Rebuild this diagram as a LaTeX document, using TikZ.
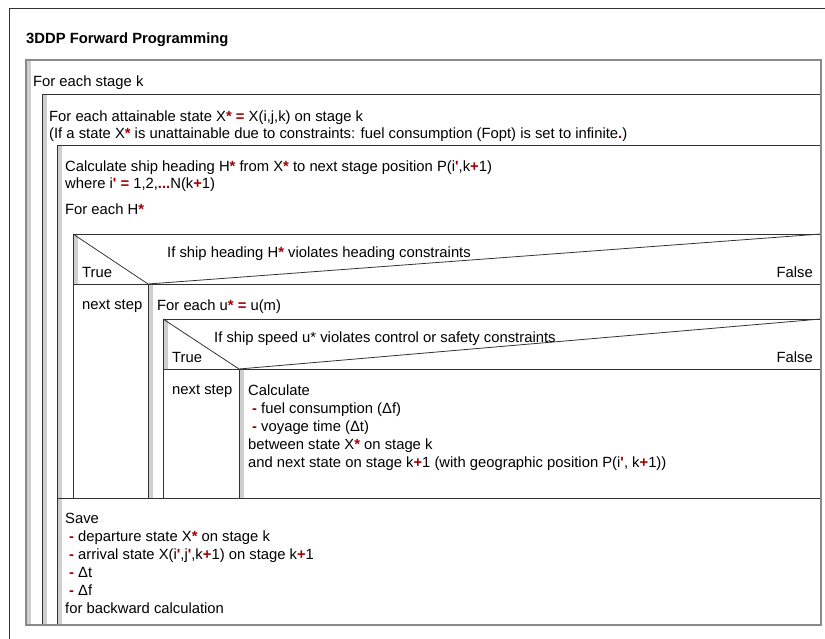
\documentclass[tikz,border=0pt]{standalone}
\usepackage{fontspec}
\setmainfont{Liberation Sans}
\usetikzlibrary{positioning}
\definecolor{nsline}{HTML}{333333}
\definecolor{nsframe}{HTML}{8A8A8A}
\definecolor{nsbar}{HTML}{CFCFCF}
\definecolor{nsred}{HTML}{A00000}
\newcommand{\rd}[1]{\textcolor{nsred}{\textbf{#1}}}
\newcommand{\qt}{\rd{\textquotesingle}}
\newcommand{\itm}{\hspace*{4pt}\rd{-} }
\tikzset{
  nstext/.style={anchor=north west,inner sep=0pt,align=left,font=\fontsize{14.8}{18}\selectfont},
  nshead/.style={nstext,font=\fontsize{14.8}{16.5}\selectfont},
  nsedge/.style={draw=nsline,line width=0.8pt},
  loopbar/.style={fill=nsbar,draw=none},
}
\begin{document}
\begin{tikzpicture}[x=1pt,y=-1pt]
  \useasboundingbox (0,0) rectangle (825,639);
  % outer frame
  \draw[nsedge] (9,639) -- (9,8) -- (825,8);
  \node[nstext,font=\fontsize{14.8}{18}\selectfont\bfseries] (title) at (26,33) {3DDP Forward Programming};
  % grey loop bars
  \foreach \x/\ya/\yb in {26/60/625,42/94/625,57/145/625,73/234/284,148/284/498,163/319/369,239/369/498}
    \fill[loopbar] (\x,\ya) rectangle (\x+5,\yb);
  % box lines
  \foreach \x/\y in {42/94,57/145,73/234,73/284,163/319,163/369,57/498}
    \draw[nsedge] (\x,\y) -- (821,\y);
  \foreach \x/\ya/\yb in {42/94/625,57/145/625,73/234/498,148/284/498,163/319/498,239/369/498}
    \draw[nsedge] (\x,\ya) -- (\x,\yb);
  \draw[nsedge] (73,234) -- (148,284) -- (821,234);
  \draw[nsedge] (163,319) -- (239,369) -- (821,319);
  \draw[draw=nsframe,line width=1.6pt] (26,60) rectangle (821,625);

  \node[nstext] (stage) at (33,76) {For each stage k};
  \node[nshead] (state) at (49,111) {For each attainable state X\rd{*} \rd{=} X(i,j,k) on stage k\\
    (If a state X\rd{*} is unattainable due to constraints: fuel consumption (Fopt) is set to infinite\rd{.})};
  \node[nshead] (heading) at (65,161) {Calculate ship heading H\rd{*} from X\rd{*} to next stage position P(i\qt,k\rd{+}1)\\
    where i\qt{} \rd{=} 1,2,\rd{...}N(k\rd{+}1)};
  \node[nstext] (eachH) at (65,204) {For each H\rd{*}};
  \node[nstext] (ifH) at (167,247) {If ship heading H\rd{*} violates heading constraints};
  \node[nstext] (trueH) at (82,267) {True};
  \node[nstext,anchor=north east] (falseH) at (813,267) {False};
  \node[nstext] (nextH) at (82,300) {next step};
  \node[nstext] (eachU) at (157,300) {For each u\rd{*} \rd{=} u(m)};
  \node[nstext] (ifU) at (214,332) {If ship speed u* violates control or safety constraints};
  \node[nstext] (trueU) at (172,352) {True};
  \node[nstext,anchor=north east] (falseU) at (813,352) {False};
  \node[nstext] (nextU) at (172,385) {next step};
  \node[nstext] (calc) at (248,385) {Calculate\\
    \itm fuel consumption (Δf)\\
    \itm voyage time (Δt)\\
    between state X\rd{*} on stage k\\
    and next state on stage k\rd{+}1 (with geographic position P(i\qt, k\rd{+}1))};
  \node[nstext] (save) at (65,513) {Save\\
    \itm departure state X\rd{*} on stage k\\
    \itm arrival state X(i\qt,j\qt,k\rd{+}1) on stage k\rd{+}1\\
    \itm Δt\\
    \itm Δf\\
    for backward calculation};
\end{tikzpicture}
\end{document}
